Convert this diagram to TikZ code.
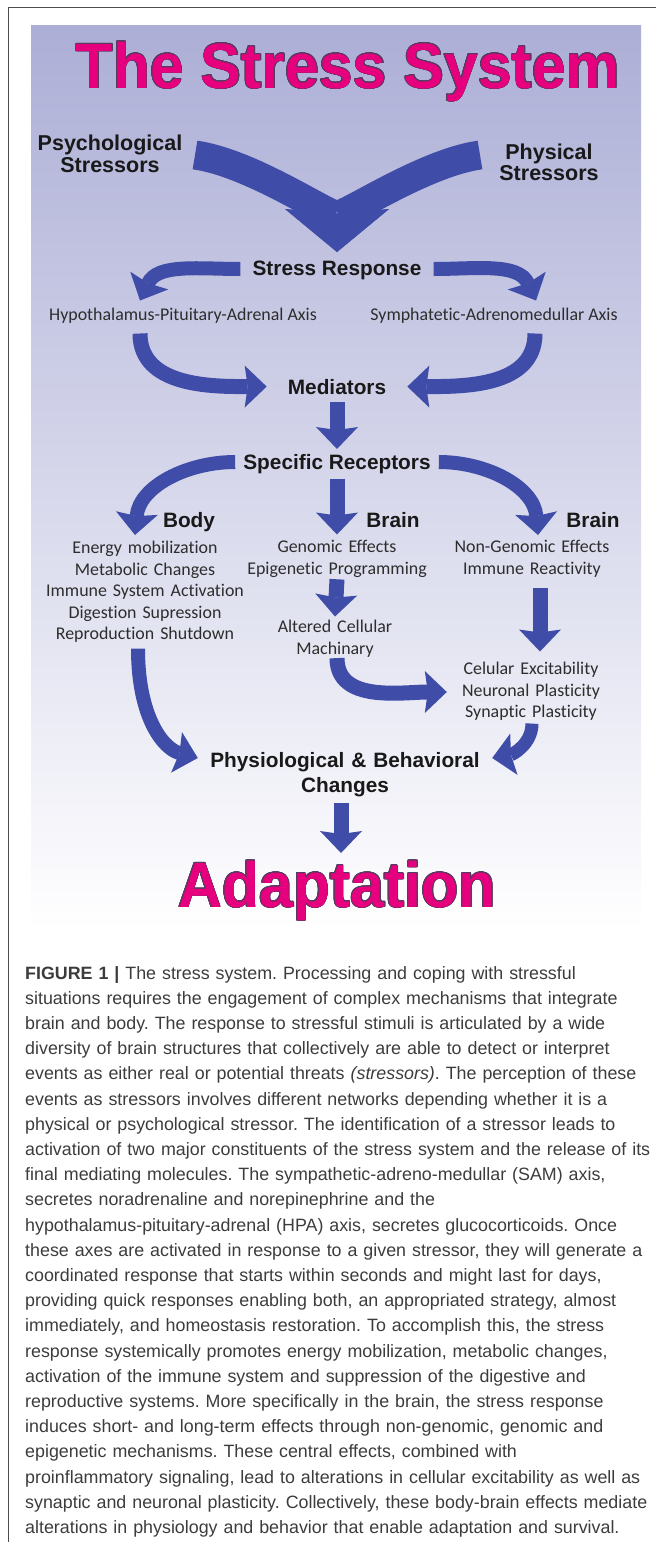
\documentclass[tikz,border=0pt]{standalone}
\usepackage{fontspec}
\setmainfont{Liberation Sans}
\newfontfamily\carlito{Carlito}[Ligatures=NoCommon]
\newfontfamily\widesans{Liberation Sans}[FakeStretch=0.95]
\usepackage[copies]{contour}
\contourlength{0.7pt}
\usetikzlibrary{arrows.meta, positioning}
\definecolor{arrowblue}{RGB}{63,77,168}
\definecolor{paneltop}{RGB}{172,174,214}
\definecolor{titlepink}{RGB}{230,0,126}
\definecolor{titleedge}{RGB}{85,60,95}
\definecolor{labelblack}{RGB}{25,25,25}
\definecolor{plaingray}{RGB}{45,45,45}
\definecolor{captiongray}{RGB}{60,60,60}
\tikzset{
  boldlbl/.style={font=\fontsize{20.8}{22}\selectfont\bfseries, text=labelblack, inner sep=0pt},
  plainlbl/.style={font=\carlito\fontsize{17.9}{21.5}\selectfont, text=plaingray, inner sep=0pt},
  bigword/.style={font=\widesans\bfseries\fontsize{64}{64}\selectfont, inner sep=0pt},
  band/.style={draw=arrowblue, line width=15pt},
  bigtip/.tip={Stealth[length=43pt, width=104pt, inset=5pt, line width=0pt]},
  headtip/.tip={Stealth[length=22pt, width=42pt, inset=3pt, line width=0pt]}
}
\frenchspacing

\begin{document}
\begin{tikzpicture}[x=1pt, y=1pt]
  \useasboundingbox (0,0) rectangle (656,-1542);
  % frame and panel
  \draw[black!70, line width=1pt] (8,-1542) -- (8,-7) -- (656,-7);
  \shade[top color=paneltop, bottom color=white] (31,-25) rectangle (641,-930);

  \node[bigword, anchor=base] (title) at (348,-88)
    {\contour{titleedge}{\textcolor{titlepink}{The Stress System}}};

  \node[boldlbl, font=\fontsize{21.5}{22}\selectfont\bfseries, text width=170pt, align=center, anchor=base]
    (psy) at (110,-150) {Psychological\\Stressors};
  \node[boldlbl, font=\fontsize{21.5}{21.5}\selectfont\bfseries, text width=130pt, align=center, anchor=base]
    (phy) at (549,-159) {Physical\\Stressors};

  \node[boldlbl, anchor=base] (resp) at (337,-275) {Stress Response};
  \node[plainlbl, anchor=base] (hpa) at (183,-320.5) {Hypothalamus-Pituitary-Adrenal Axis};
  \node[plainlbl, anchor=base] (sam) at (494,-320.5) {Symphatetic-Adrenomedullar Axis};
  \node[boldlbl, anchor=base] (med) at (337,-394) {Mediators};
  \node[boldlbl, anchor=base] (rec) at (337,-469) {Specific Receptors};

  \node[boldlbl, anchor=base] (body) at (189,-527) {Body};
  \node[boldlbl, anchor=base] (brainm) at (393,-527) {Brain};
  \node[boldlbl, anchor=base] (brainr) at (593,-527) {Brain};

  \node[plainlbl, text width=210pt, align=center, anchor=base] (bodyl) at (145,-553.5)
    {Energy mobilization\\Metabolic Changes\\Immune System Activation\\Digestion Supression\\Reproduction Shutdown};
  \node[plainlbl, text width=190pt, align=center, anchor=base] (gen) at (337,-552.5)
    {Genomic Effects\\Epigenetic Programming};
  \node[plainlbl, text width=140pt, align=center, anchor=base] (alt) at (335,-632.5)
    {Altered Cellular\\Machinary};
  \node[plainlbl, font=\carlito\fontsize{17.9}{22}\selectfont, text width=160pt, align=center, anchor=base]
    (nongen) at (532,-552.5) {Non-Genomic Effects\\Immune Reactivity};
  \node[plainlbl, text width=140pt, align=center, anchor=base] (cel) at (531,-674.5)
    {Celular Excitability\\Neuronal Plasticity\\Synaptic Plasticity};

  \node[boldlbl, font=\fontsize{20.8}{25}\selectfont\bfseries, text width=270pt, align=center, anchor=base]
    (phys) at (345,-767) {Physiological \& Behavioral\\Changes};
  \node[bigword, anchor=base] (adapt) at (337,-907)
    {\contour{titleedge}{\textcolor{titlepink}{Adaptation}}};

  % arrows
  \draw[band, line width=29pt, -bigtip] ([xshift=85pt,yshift=-5pt]psy.base)
    to[out=-8, in=90, out distance=60pt, in distance=30pt] ([yshift=23pt]resp.base);
  \draw[band, line width=29pt, -bigtip] ([xshift=-69pt,yshift=4pt]phy.base)
    to[out=188, in=90, out distance=60pt, in distance=30pt] ([yshift=23pt]resp.base);

  \draw[band, line width=14pt, -headtip] ([xshift=-12pt,yshift=6pt]resp.base west)
    to[out=180, in=65] ([xshift=-43pt,yshift=20pt]hpa.base);
  \draw[band, line width=14pt, -headtip] ([xshift=12pt,yshift=6pt]resp.base east)
    to[out=0, in=115] ([xshift=42pt,yshift=20pt]sam.base);

  \draw[band, -headtip] ([xshift=-43pt,yshift=-13pt]hpa.base)
    to[out=-90, in=180] ([xshift=-21pt]med.west);
  \draw[band, -headtip] ([xshift=41pt,yshift=-13pt]sam.base)
    to[out=-90, in=0] ([xshift=21pt]med.east);
  \draw[band, -headtip] ([yshift=-8pt]med.south) -- ([yshift=20pt]rec.base);

  \draw[band, line width=14pt, -headtip] ([xshift=-8pt,yshift=7pt]rec.base west)
    to[out=180, in=85] ([xshift=-10pt,yshift=18.5pt]bodyl.base);
  \draw[band, -headtip] ([yshift=-5pt]rec.south) -- ([yshift=18pt]gen.base);
  \draw[band, line width=14pt, -headtip] ([xshift=8pt,yshift=7pt]rec.base east)
    to[out=0, in=95] ([xshift=6pt,yshift=17.5pt]nongen.base);

  \draw[band, -headtip] ([yshift=-2pt]gen.south) -- ([yshift=16pt]alt.base);
  \draw[band, -headtip] ([xshift=8pt,yshift=-10pt]nongen.south) -- ([xshift=9pt,yshift=23pt]cel.base);
  \draw[band, -headtip] ([xshift=2pt,yshift=-1pt]alt.south)
    to[out=-90, in=180] ([xshift=-14pt,yshift=-17.5pt]cel.base west);

  \draw[band, line width=14pt, -headtip] ([xshift=-7pt,yshift=-6pt]bodyl.south)
    to[out=-90, in=165, out distance=70pt, in distance=35pt] ([xshift=-12pt,yshift=9pt]phys.base west);
  \draw[band, line width=13pt, -headtip] ([xshift=1pt,yshift=-3pt]cel.south)
    to[out=-90, in=10] ([xshift=12pt,yshift=9pt]phys.base east);
  \draw[band, -headtip] ([xshift=-4pt,yshift=-6pt]phys.south) -- ([xshift=4pt,yshift=54pt]adapt.base);

  % caption
  \node[anchor=base west, inner sep=0pt, text width=640pt, align=left,
        font=\fontsize{17.85}{25.2}\selectfont, text=captiongray] (caption) at (25,-979)
    {\textbf{FIGURE 1 |} The stress system. Processing and coping with stressful\\
     situations requires the engagement of complex mechanisms that integrate\\
     brain and body. The response to stressful stimuli is articulated by a wide\\
     diversity of brain structures that collectively are able to detect or interpret\\
     events as either real or potential threats \textit{(stressors)}. The perception of these\\
     events as stressors involves different networks depending whether it is a\\
     physical or psychological stressor. The identification of a stressor leads to\\
     activation of two major constituents of the stress system and the release of its\\
     final mediating molecules. The sympathetic-adreno-medullar (SAM) axis,\\
     secretes noradrenaline and norepinephrine and the\\
     hypothalamus-pituitary-adrenal (HPA) axis, secretes glucocorticoids. Once\\
     these axes are activated in response to a given stressor, they will generate a\\
     coordinated response that starts within seconds and might last for days,\\
     providing quick responses enabling both, an appropriated strategy, almost\\
     immediately, and homeostasis restoration. To accomplish this, the stress\\
     response systemically promotes energy mobilization, metabolic changes,\\
     activation of the immune system and suppression of the digestive and\\
     reproductive systems. More specifically in the brain, the stress response\\
     induces short- and long-term effects through non-genomic, genomic and\\
     epigenetic mechanisms. These central effects, combined with\\
     proinflammatory signaling, lead to alterations in cellular excitability as well as\\
     synaptic and neuronal plasticity. Collectively, these body-brain effects mediate\\
     alterations in physiology and behavior that enable adaptation and survival.};
\end{tikzpicture}
\end{document}
